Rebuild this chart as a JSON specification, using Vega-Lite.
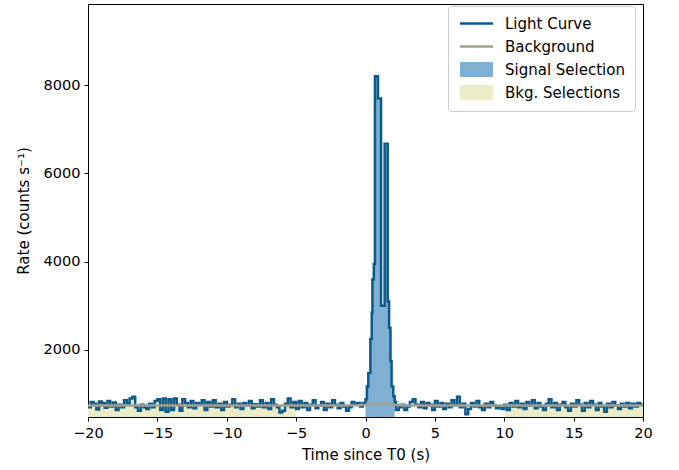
{
  "$schema": "https://vega.github.io/schema/vega-lite/v6.json",
  "autosize": "none",
  "width": 555,
  "height": 413,
  "padding": {"left": 88, "top": 4, "right": 36, "bottom": 53},
  "background": "white",
  "config": {
    "view": {"stroke": "black", "strokeWidth": 1},
    "font": "DejaVu Sans",
    "axis": {
      "grid": false, "domainColor": "black", "tickColor": "black", "tickSize": 4,
      "labelFont": "DejaVu Sans", "labelFontSize": 14.5, "labelColor": "black", "labelFlush": false,
      "titleFont": "DejaVu Sans", "titleFontSize": 15, "titleColor": "black", "titleFontWeight": "normal"
    },
    "legend": {
      "labelFont": "DejaVu Sans", "labelFontSize": 15, "labelColor": "black"
    }
  },
  "datasets": {
    "lc": [
      {"t":-20,"r":700},{"t":-19.8,"r":820},{"t":-19.6,"r":780},{"t":-19.4,"r":650},{"t":-19.2,"r":830},{"t":-19,"r":800},{"t":-18.8,"r":690},{"t":-18.6,"r":840},{"t":-18.4,"r":720},{"t":-18.2,"r":810},
      {"t":-18,"r":640},{"t":-17.8,"r":760},{"t":-17.6,"r":700},{"t":-17.4,"r":860},{"t":-17.2,"r":790},{"t":-17,"r":900},{"t":-16.8,"r":940},{"t":-16.6,"r":700},{"t":-16.4,"r":620},{"t":-16.2,"r":760},
      {"t":-16,"r":700},{"t":-15.8,"r":660},{"t":-15.6,"r":780},{"t":-15.4,"r":700},{"t":-15.2,"r":840},{"t":-15,"r":880},{"t":-14.8,"r":640},{"t":-14.6,"r":900},{"t":-14.4,"r":600},{"t":-14.2,"r":880},
      {"t":-14,"r":640},{"t":-13.8,"r":900},{"t":-13.6,"r":760},{"t":-13.4,"r":620},{"t":-13.2,"r":880},{"t":-13,"r":800},{"t":-12.8,"r":700},{"t":-12.6,"r":840},{"t":-12.4,"r":680},{"t":-12.2,"r":800},
      {"t":-12,"r":760},{"t":-11.8,"r":860},{"t":-11.6,"r":640},{"t":-11.4,"r":820},{"t":-11.2,"r":720},{"t":-11,"r":860},{"t":-10.8,"r":700},{"t":-10.6,"r":780},{"t":-10.4,"r":640},{"t":-10.2,"r":820},
      {"t":-10,"r":720},{"t":-9.8,"r":760},{"t":-9.6,"r":880},{"t":-9.4,"r":700},{"t":-9.2,"r":780},{"t":-9,"r":660},{"t":-8.8,"r":800},{"t":-8.6,"r":740},{"t":-8.4,"r":840},{"t":-8.2,"r":680},
      {"t":-8,"r":770},{"t":-7.8,"r":720},{"t":-7.6,"r":860},{"t":-7.4,"r":700},{"t":-7.2,"r":800},{"t":-7,"r":660},{"t":-6.8,"r":880},{"t":-6.6,"r":760},{"t":-6.4,"r":700},{"t":-6.2,"r":580},
      {"t":-6,"r":620},{"t":-5.8,"r":780},{"t":-5.6,"r":900},{"t":-5.4,"r":700},{"t":-5.2,"r":820},{"t":-5,"r":660},{"t":-4.8,"r":840},{"t":-4.6,"r":700},{"t":-4.4,"r":800},{"t":-4.2,"r":640},
      {"t":-4,"r":760},{"t":-3.8,"r":860},{"t":-3.6,"r":680},{"t":-3.4,"r":740},{"t":-3.2,"r":820},{"t":-3,"r":640},{"t":-2.8,"r":780},{"t":-2.6,"r":700},{"t":-2.4,"r":860},{"t":-2.2,"r":760},
      {"t":-2,"r":680},{"t":-1.8,"r":800},{"t":-1.6,"r":720},{"t":-1.4,"r":620},{"t":-1.2,"r":700},{"t":-1,"r":820},{"t":-0.8,"r":760},{"t":-0.6,"r":800},{"t":-0.4,"r":720},{"t":-0.2,"r":800},
      {"t":0,"r":880},{"t":0.1,"r":1170},{"t":0.2,"r":1480},{"t":0.35,"r":2250},{"t":0.45,"r":2850},{"t":0.5,"r":3600},{"t":0.6,"r":3950},{"t":0.68,"r":8200},{"t":0.9,"r":7700},{"t":1.12,"r":3000},
      {"t":1.38,"r":6670},{"t":1.6,"r":3100},{"t":1.7,"r":2500},{"t":1.8,"r":1750},{"t":1.88,"r":1170},{"t":2,"r":950},{"t":2.1,"r":820},
      {"t":2.2,"r":640},{"t":2.4,"r":700},{"t":2.6,"r":760},{"t":2.8,"r":640},{"t":3,"r":720},{"t":3.2,"r":820},{"t":3.4,"r":880},{"t":3.6,"r":760},{"t":3.8,"r":700},{"t":4,"r":820},
      {"t":4.2,"r":680},{"t":4.4,"r":800},{"t":4.6,"r":760},{"t":4.8,"r":640},{"t":5,"r":840},{"t":5.2,"r":720},{"t":5.4,"r":800},{"t":5.6,"r":660},{"t":5.8,"r":780},{"t":6,"r":700},
      {"t":6.2,"r":860},{"t":6.4,"r":740},{"t":6.6,"r":940},{"t":6.8,"r":700},{"t":7,"r":780},{"t":7.2,"r":540},{"t":7.4,"r":660},{"t":7.6,"r":800},{"t":7.8,"r":720},{"t":8,"r":840},
      {"t":8.2,"r":700},{"t":8.4,"r":640},{"t":8.6,"r":780},{"t":8.8,"r":700},{"t":9,"r":820},{"t":9.2,"r":740},{"t":9.4,"r":680},{"t":9.6,"r":720},{"t":9.8,"r":660},{"t":10,"r":760},
      {"t":10.2,"r":640},{"t":10.4,"r":800},{"t":10.6,"r":720},{"t":10.8,"r":840},{"t":11,"r":700},{"t":11.2,"r":780},{"t":11.4,"r":660},{"t":11.6,"r":820},{"t":11.8,"r":740},{"t":12,"r":860},
      {"t":12.2,"r":680},{"t":12.4,"r":800},{"t":12.6,"r":720},{"t":12.8,"r":640},{"t":13,"r":780},{"t":13.2,"r":880},{"t":13.4,"r":700},{"t":13.6,"r":800},{"t":13.8,"r":640},{"t":14,"r":760},
      {"t":14.2,"r":820},{"t":14.4,"r":700},{"t":14.6,"r":620},{"t":14.8,"r":780},{"t":15,"r":720},{"t":15.2,"r":860},{"t":15.4,"r":760},{"t":15.6,"r":620},{"t":15.8,"r":800},{"t":16,"r":700},
      {"t":16.2,"r":840},{"t":16.4,"r":760},{"t":16.6,"r":640},{"t":16.8,"r":800},{"t":17,"r":720},{"t":17.2,"r":600},{"t":17.4,"r":780},{"t":17.6,"r":700},{"t":17.8,"r":820},{"t":18,"r":740},
      {"t":18.2,"r":660},{"t":18.4,"r":780},{"t":18.6,"r":720},{"t":18.8,"r":800},{"t":19,"r":680},{"t":19.2,"r":780},{"t":19.4,"r":720},{"t":19.6,"r":800},{"t":19.8,"r":760},{"t":20,"r":760}
    ],
    "bkg": [
      {"t":-20,"r":738},{"t":-15,"r":738},{"t":-10,"r":740},{"t":-5,"r":740},{"t":-2,"r":742},{"t":-0.5,"r":745},{"t":0,"r":760},{"t":0.3,"r":775},{"t":0.6,"r":765},{"t":0.9,"r":790},
      {"t":1.2,"r":770},{"t":1.5,"r":795},{"t":1.8,"r":770},{"t":2.1,"r":750},{"t":3,"r":742},{"t":10,"r":740},{"t":15,"r":738},{"t":20,"r":738}
    ]
  },
  "encoding": {
    "x": {"field": "t", "type": "quantitative",
      "scale": {"domain": [-20, 20], "nice": false, "zero": false},
      "axis": {"title": "Time since T0 (s)", "values": [-20,-15,-10,-5,0,5,10,15,20], "labelPadding": 5, "titlePadding": 8}},
    "y": {"field": "r", "type": "quantitative",
      "scale": {"domain": [480, 9840], "nice": false, "zero": false},
      "axis": {"title": "Rate (counts s⁻¹)", "values": [2000,4000,6000,8000], "format": "d", "labelPadding": 4, "titlePadding": 12}}
  },
  "layer": [
    {
      "data": {"name": "lc"},
      "transform": [{"filter": "datum.t <= -5"}],
      "mark": {"type": "area", "interpolate": "step-after", "clip": true},
      "encoding": {"color": {"datum": "Bkg. Selections"}}
    },
    {
      "data": {"name": "lc"},
      "transform": [{"filter": "datum.t >= 10"}],
      "mark": {"type": "area", "interpolate": "step-after", "clip": true},
      "encoding": {"color": {"datum": "Bkg. Selections"}}
    },
    {
      "data": {"name": "lc"},
      "transform": [{"filter": "datum.t >= 0 && datum.t <= 2.1"}],
      "mark": {"type": "area", "interpolate": "step-after", "clip": true},
      "encoding": {"color": {"datum": "Signal Selection"}}
    },
    {
      "data": {"name": "lc"},
      "mark": {"type": "line", "interpolate": "step-after", "strokeWidth": 2.5, "clip": true},
      "encoding": {"color": {"datum": "Light Curve",
        "scale": {"domain": ["Light Curve", "Background", "Signal Selection", "Bkg. Selections"],
                  "range": ["#0a5a8b", "#a0a094", "#7fafd3", "#ececc9"]},
        "legend": {
          "title": null, "orient": "none", "legendX": 360, "legendY": 2,
          "padding": 10, "strokeColor": "#cccccc", "fillColor": "white", "cornerRadius": 3,
          "symbolSize": 1089, "rowPadding": 7, "labelLimit": 300,
          "encode": {
            "symbols": {"update": {
              "x": {"value": 18.5},
              "shape": {"signal": "indexof(['Light Curve','Background'], datum.value) >= 0 ? 'stroke' : 'M-1,-0.45H1V0.45H-1Z'"},
              "strokeWidth": {"signal": "indexof(['Light Curve','Background'], datum.value) >= 0 ? 2.5 : 0"},
              "fill": {"scale": "color", "field": "value"},
              "stroke": {"scale": "color", "field": "value"},
              "opacity": {"value": 1},
              "fillOpacity": {"value": 1},
              "strokeOpacity": {"value": 1}
            }},
            "labels": {"update": {"x": {"value": 47}}}
          }
        }}}
    },
    {
      "data": {"name": "bkg"},
      "mark": {"type": "line", "strokeWidth": 2.5, "clip": true},
      "encoding": {"color": {"datum": "Background"}}
    }
  ]
}
